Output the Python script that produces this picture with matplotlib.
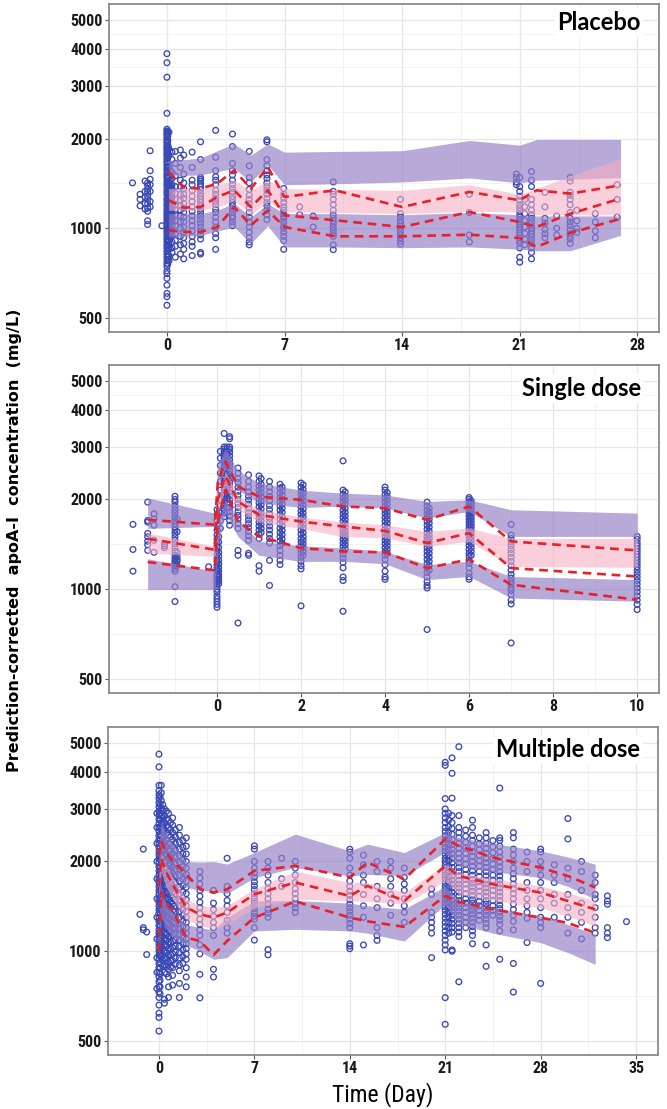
import matplotlib
matplotlib.use("Agg")
import matplotlib.pyplot as plt
import matplotlib.font_manager as fm
from matplotlib.ticker import FixedLocator, NullFormatter

# pick a narrow font if one is installed
avail = {f.name for f in fm.fontManager.ttflist}
NARROW = next((n for n in ['Liberation Sans Narrow', 'DejaVu Sans Condensed', 'Roboto Condensed',
                           'Arial Narrow', 'Open Sans Condensed'] if n in avail), 'DejaVu Sans')
plt.rcParams['font.family'] = [NARROW, 'DejaVu Sans']

# ---------------- Placebo ----------------
pl_t = [0.1, 1, 2, 3, 4, 5, 6, 7, 10, 14, 18, 21, 22, 24, 27]
pl_obs_hi = [1545, 1370, 1359, 1412, 1565, 1359, 1606, 1274, 1341, 1179, 1324, 1242, 1341, 1307, 1394]
pl_obs_med = [1242, 1173, 1179, 1274, 1341, 1179, 1341, 1106, 1064, 1010, 1134, 1050, 1010, 1119, 1258]
pl_obs_lo = [985, 972, 972, 1010, 1179, 1023, 1148, 1010, 940, 940, 952, 928, 866, 964, 1077]
pl_hi_top = [1690, 1700, 1720, 1820, 1920, 1760, 1920, 1800, 1810, 1820, 1970, 1900, 1985, 1985, 1985]
pl_hi_bot = [1505, 1505, 1510, 1550, 1590, 1430, 1630, 1400, 1410, 1430, 1475, 1420, 1450, 1460, 1480]
pl_med_top = [1359, 1360, 1360, 1400, 1449, 1340, 1450, 1359, 1350, 1340, 1400, 1300, 1360, 1500, 1713]
pl_med_bot = [1149, 1150, 1150, 1180, 1241, 1110, 1230, 1134, 1130, 1120, 1140, 1134, 1110, 1110, 1110]
pl_lo_top = [1120, 1120, 1120, 1150, 1213, 1090, 1210, 1120, 1120, 1110, 1130, 1110, 1100, 1100, 1100]
pl_lo_bot = [935, 940, 945, 980, 1010, 890, 1020, 866, 866, 861, 866, 851, 841, 841, 947]

placebo_obs = [
    (-2.05, [1420]),
    (-1.6, [1300, 1250, 1190]),
    (-1.3, [1440, 1330, 1270, 1210, 1160]),
    (-1.15, [1420, 1390, 1350, 1320, 1280, 1250, 1210, 1170, 1140, 1060, 1030]),
    (-1.0, [1820, 1560, 1460, 1400, 1330, 1230, 1180]),
    (-0.3, [1020]),
    (0.0, [3850, 3590, 3210, 2430, 2150, 2120, 2085, 2060, 2020, 1985, 1950, 1925, 1890, 1860, 1835,
           1800, 1770, 1745, 1710, 1680, 1655, 1620, 1590, 1565, 1530, 1500, 1475, 1440, 1410, 1385,
           1350, 1320, 1295, 1260, 1240, 1210, 1190, 1165, 1140, 1120, 1100, 1080, 1060, 1040, 1020,
           1000, 980, 960, 940, 920, 900, 880, 860, 840, 820, 800, 780, 762, 745, 720, 705, 680, 645,
           605, 590, 552]),
    (0.05, [2110, 2040, 1970, 1900, 1840, 1780, 1720, 1660, 1600, 1540, 1490, 1440, 1390, 1340, 1300,
            1260, 1220, 1180, 1150, 1120, 1090, 1060, 1030, 1000, 975, 950, 925, 900, 870, 840, 810,
            785, 760]),
    (0.12, [2100, 1850, 1760, 1610, 1480, 1420, 1390, 1350, 1320, 1290, 1260, 1230, 1200, 1180, 1160,
            1130, 1110, 1090, 1070, 1050, 1030, 1000, 970, 940, 910, 880, 850, 810, 780]),
    (0.2, [1560, 1450, 1400, 1340, 1290, 1250, 1215, 1180, 1150, 1125, 1100, 1075, 1050, 990, 930]),
    (0.3, [1800, 1700, 1540, 1470, 1400, 1360, 1320, 1270, 1230, 1190, 1160, 1120, 1090, 1060, 1020,
           980, 950, 900, 860, 830]),
    (0.5, [1810, 1650, 1500, 1380, 1310, 1250, 1200, 1150, 1110, 1060, 1020, 960, 910, 870, 800]),
    (0.8, [1830, 1720, 1600, 1450, 1380, 1300, 1240, 1190, 1150, 1100, 1050, 1000, 940, 880, 820]),
    (1.0, [1760, 1520, 1420, 1360, 1300, 1260, 1210, 1170, 1130, 1090, 1050, 1010, 970, 930, 890, 850, 790]),
    (1.5, [1800, 1600, 1450, 1400, 1340, 1280, 1230, 1180, 1140, 1100, 1060, 1020, 980, 940, 900, 870, 810]),
    (2.0, [1950, 1700, 1480, 1460, 1440, 1410, 1380, 1350, 1310, 1280, 1250, 1220, 1190, 1160, 1130,
           1100, 1070, 1040, 1010, 980, 950, 920, 830, 820]),
    (2.9, [2130, 1730, 1560, 1490, 1450, 1400, 1340, 1300, 1260, 1230, 1200, 1160, 1130, 1090, 1050,
           1010, 960, 930, 850]),
    (3.9, [2070, 1880, 1650, 1560, 1510, 1450, 1400, 1360, 1320, 1280, 1250, 1220, 1190, 1160, 1130,
           1100, 1080, 1050, 1020]),
    (4.9, [1810, 1620, 1480, 1420, 1350, 1290, 1250, 1210, 1170, 1130, 1090, 1050, 1010, 970, 930, 900, 880]),
    (5.95, [1980, 1950, 1700, 1620, 1560, 1510, 1470, 1420, 1380, 1340, 1300, 1260, 1220, 1190, 1150,
            1110, 1070]),
    (6.95, [1360, 1300, 1260, 1220, 1180, 1150, 1120, 1100, 1080, 1050, 1020, 1000, 970, 940, 910, 850]),
    (7.9, [1180, 1110]),
    (8.7, [1100, 1010]),
    (9.9, [1430, 1330, 1300, 1250, 1200, 1150, 1110, 1080, 1060, 1040, 1010, 985, 960, 940, 880, 848]),
    (13.9, [1250, 1120, 1090, 1060, 1040, 1020, 1000, 975, 950, 930, 905, 885]),
    (18.0, [1300, 1130, 950, 900]),
    (20.8, [1520, 1480, 1430, 1400]),
    (21.0, [1480, 1380, 1330, 1280, 1240, 1200, 1170, 1140, 1110, 1090, 1070, 1050, 1030, 1010, 990,
            970, 950, 930, 910, 890, 860, 800, 770]),
    (21.3, [1250, 1180, 1120, 1060, 1010, 960, 920, 880]),
    (21.7, [1550, 1450, 1380, 1250, 1200, 1150, 1110, 1080, 1050, 1020, 1000, 980, 960, 940, 915, 890,
            860, 830, 790]),
    (22.5, [1320, 1180, 1080, 1040, 990, 960, 930]),
    (23.2, [1100, 1000, 950]),
    (24.0, [1480, 1440, 1320, 1290, 1250, 1200, 1130, 1080, 1050, 1020, 990, 960, 940, 920, 890]),
    (24.4, [1150, 1060, 1000, 970]),
    (25.5, [1120, 1050, 980, 930]),
    (26.8, [1400, 1250, 1090]),
]

# ---------------- Single dose ----------------
sd_t = [-1.65, -0.05, 0.02, 0.2, 0.5, 1, 2, 3, 4, 5, 6, 7, 10]
sd_obs_hi = [1711, 1646, 2300, 2680, 2210, 2045, 1995, 1895, 1871, 1711, 1895, 1447, 1350]
sd_obs_med = [1477, 1357, 2000, 2400, 1970, 1777, 1687, 1624, 1570, 1429, 1543, 1178, 1104]
sd_obs_lo = [1234, 1157, 1700, 2150, 1687, 1504, 1374, 1340, 1330, 1178, 1260, 1036, 923]
sd_hi_top = [2025, 1800, 2600, 2950, 2500, 2270, 2150, 2100, 2073, 1970, 1995, 1848, 1800]
sd_hi_bot = [1600, 1625, 2200, 2550, 2150, 1950, 1880, 1900, 1871, 1732, 1824, 1504, 1504]
sd_med_top = [1544, 1393, 2000, 2500, 2050, 1850, 1750, 1680, 1645, 1563, 1604, 1480, 1480]
sd_med_bot = [1323, 1289, 1800, 2200, 1850, 1680, 1600, 1500, 1490, 1393, 1447, 1194, 1185]
sd_lo_top = [1266, 1149, 1650, 2000, 1700, 1450, 1400, 1375, 1340, 1209, 1241, 1104, 1077]
sd_lo_bot = [998, 998, 1400, 1800, 1500, 1300, 1240, 1241, 1218, 1077, 1104, 935, 912]

single_obs = [
    (-2.0, [1650, 1360, 1150]),
    (-1.65, [1960, 1700, 1680, 1540, 1500, 1450, 1410, 1350]),
    (-1.5, [1790, 1720, 1640, 1460, 1330]),
    (-1.25, [1420, 1400, 1380]),
    (-1.0, [2050, 2000, 1960, 1900, 1850, 1800, 1750, 1700, 1660, 1620, 1580, 1540, 1500, 1460, 1420,
            1380, 1340, 1300, 1270, 1250, 1230, 1210, 1190, 1170, 1150, 1020, 910]),
    (-0.95, [1720, 1560, 1330, 1290, 1260, 1240, 1200]),
    (-0.2, [1190]),
    (0.0, [1850, 1780, 1700, 1640, 1580, 1520, 1470, 1430, 1390, 1350, 1310, 1270, 1240, 1210, 1180,
           1150, 1120, 1100, 1080, 1060, 1040, 1020, 1000, 980, 950, 930, 910, 890, 870]),
    (0.04, [1500, 1440, 1380, 1330, 1290, 1250, 1215, 1180, 1150, 1120, 1095, 1070, 1045]),
    (0.08, [2900, 2750, 2600, 2450, 2300, 2150, 2000, 1900, 1800, 1700, 1600]),
    (0.17, [3330, 3000, 2950, 2900, 2850, 2800, 2750, 2700, 2650, 2600, 2550, 2500, 2450, 2400, 2350,
            2300, 2250, 2200, 2150, 2100, 2050, 2000, 1950, 1900, 1850, 1800, 1750]),
    (0.24, [3000, 2920, 2840, 2760, 2680, 2600, 2520, 2440, 2370, 2300, 2230, 2160, 2090, 2020, 1950,
            1880, 1810]),
    (0.3, [3250, 3200, 3000, 2950, 2880, 2800, 2720, 2650, 2580, 2500, 2430, 2360, 2300, 2240, 2180,
           2120, 2060, 2000, 1940, 1880, 1820, 1760, 1700, 1640]),
    (0.5, [2550, 2450, 2350, 2280, 2200, 2130, 2060, 2000, 1940, 1880, 1820, 1770, 1720, 1660, 1600,
           1350, 1300, 771]),
    (0.75, [2420, 2300, 2200, 2120, 2050, 1990, 1930, 1870, 1810, 1760, 1710, 1660, 1610, 1560, 1510,
            1460, 1320, 1300]),
    (1.0, [2400, 2300, 2220, 2150, 2080, 2010, 1950, 1890, 1830, 1780, 1730, 1680, 1630, 1580, 1530,
           1480, 1200, 1150]),
    (1.05, [2350, 2250, 2180, 2110, 2040, 1980, 1920, 1860, 1800, 1750, 1700, 1650, 1600, 1550]),
    (1.25, [2300, 2200, 2120, 2050, 1980, 1910, 1850, 1790, 1730, 1680, 1630, 1580, 1530, 1480, 1430,
            1250, 1030]),
    (1.5, [2250, 2180, 2100, 2030, 1960, 1900, 1840, 1780, 1720, 1660, 1600, 1550, 1500, 1450, 1400,
           1350, 1300, 1250, 1210]),
    (1.55, [2200, 2140, 2070, 2000, 1930, 1870, 1810, 1750, 1690, 1630, 1575, 1525, 1475, 1425]),
    (2.0, [2270, 2200, 2130, 2070, 2010, 1950, 1890, 1830, 1780, 1730, 1680, 1630, 1580, 1530, 1480,
           1440, 1400, 1360, 1320, 1280, 1240, 1200, 1170, 880]),
    (2.05, [2240, 2160, 2100, 2040, 1980, 1920, 1860, 1800, 1750, 1700, 1650, 1600, 1550, 1500, 1460,
            1420, 1380, 1340, 1300]),
    (3.0, [2695, 2150, 2080, 2020, 1960, 1900, 1840, 1790, 1740, 1690, 1640, 1590, 1550, 1510, 1470,
           1430, 1390, 1350, 1310, 1270, 1230, 1180, 1100, 1070, 844]),
    (3.05, [2120, 2050, 1990, 1930, 1870, 1810, 1760, 1710, 1660, 1615, 1570, 1530, 1490, 1450, 1410,
            1370]),
    (4.0, [2200, 2150, 2080, 2020, 1960, 1900, 1840, 1790, 1740, 1690, 1640, 1590, 1540, 1500, 1460,
           1420, 1380, 1340, 1300, 1260, 1210, 1150, 1100, 1080]),
    (4.05, [2110, 2050, 1990, 1930, 1870, 1815, 1765, 1715, 1665, 1615, 1565, 1520, 1480, 1440, 1400,
            1360, 1320]),
    (5.0, [1960, 1900, 1840, 1790, 1740, 1690, 1640, 1590, 1540, 1500, 1460, 1420, 1380, 1340, 1300,
           1260, 1220, 1180, 1140, 1100, 1060, 1030, 1010, 733]),
    (5.05, [1870, 1815, 1765, 1715, 1665, 1615, 1565, 1520, 1480, 1440, 1400, 1360, 1320, 1280, 1240,
            1200, 1160]),
    (6.0, [2030, 2000, 1960, 1920, 1880, 1840, 1800, 1760, 1720, 1680, 1640, 1600, 1560, 1520, 1480,
           1440, 1400, 1360, 1320, 1290, 1250, 1220, 1180, 1130, 1100, 1080]),
    (6.05, [1980, 1940, 1900, 1860, 1820, 1780, 1740, 1700, 1660, 1620, 1580, 1540, 1500, 1460, 1420,
            1380, 1340, 1300]),
    (7.0, [1650, 1520, 1480, 1440, 1400, 1360, 1320, 1280, 1240, 1200, 1160, 1120, 1090, 1060, 1040,
           1010, 990, 960, 920, 893, 661]),
    (10.0, [1504, 1470, 1430, 1400, 1370, 1340, 1310, 1280, 1250, 1220, 1190, 1160, 1130, 1100, 1070,
            1040, 1010, 980, 950, 920, 890, 855]),
]

# ---------------- Multiple dose ----------------
md_t = [0, 0.17, 0.5, 1, 2, 3, 4, 5, 7, 10, 14, 15.3, 18, 21, 22, 24.5, 28, 30, 32]
md_obs_hi = [2100, 2345, 2150, 2009, 1813, 1614, 1573, 1614, 1860, 1933, 1768, 1986, 1744, 2375, 2256, 2061, 1908, 1788, 1637]
md_obs_med = [1650, 2050, 1850, 1678, 1402, 1331, 1297, 1348, 1553, 1700, 1533, 1656, 1475, 1933, 1788, 1677, 1573, 1474, 1382]
md_obs_lo = [1000, 1580, 1450, 1366, 1111, 1083, 972, 1083, 1297, 1470, 1297, 1260, 1207, 1533, 1464, 1382, 1296, 1245, 1152]
md_hi_top = [2300, 2700, 2500, 2300, 2000, 1990, 2000, 1960, 2143, 2470, 2171, 2286, 2143, 2500, 2405, 2300, 2171, 2070, 1959]
md_hi_bot = [1750, 2150, 1950, 1800, 1640, 1600, 1590, 1560, 1766, 1908, 1789, 1810, 1789, 2150, 1930, 1850, 1766, 1650, 1495]
md_med_top = [1800, 2150, 1950, 1780, 1500, 1420, 1402, 1420, 1620, 1857, 1700, 1700, 1573, 1959, 1836, 1750, 1656, 1570, 1475]
md_med_bot = [1500, 1850, 1650, 1500, 1280, 1220, 1190, 1230, 1400, 1495, 1475, 1470, 1438, 1722, 1553, 1480, 1400, 1310, 1216]
md_lo_top = [1300, 1650, 1450, 1350, 1230, 1200, 1180, 1297, 1475, 1480, 1450, 1420, 1384, 1650, 1475, 1400, 1314, 1230, 1140]
md_lo_bot = [950, 1300, 1200, 1120, 1050, 1000, 940, 952, 1170, 1185, 1170, 1150, 1082, 1437, 1232, 1150, 1069, 990, 904]

multiple_obs = [
    (-1.4, [1330]),
    (-1.15, [2200, 1200, 1180]),
    (-0.9, [1160, 975]),
    (-0.15, [2900, 2600, 2300, 2000, 1750, 1500, 1300, 1100, 950, 850, 750]),
    (0.0, [4580, 4150, 3600, 3450, 3350, 3250, 3150, 3050, 2950, 2860, 2770, 2680, 2600, 2520, 2440,
           2370, 2300, 2230, 2160, 2100, 2040, 1980, 1920, 1860, 1800, 1750, 1700, 1650, 1600, 1550,
           1500, 1460, 1420, 1380, 1340, 1300, 1260, 1220, 1180, 1150, 1120, 1090, 1060, 1030, 1000,
           970, 940, 910, 880, 850, 820, 790, 760, 730, 700, 660, 620, 600, 540]),
    (0.08, [3300, 3100, 2900, 2750, 2600, 2470, 2350, 2240, 2130, 2030, 1930, 1840, 1750, 1670, 1590,
            1520, 1450, 1390, 1330, 1270, 1210, 1160, 1110, 1060, 1010, 965, 920, 880, 840, 800, 760, 720]),
    (0.17, [3600, 3400, 3200, 3000, 2850, 2700, 2560, 2430, 2300, 2180, 2070, 1960, 1860, 1770, 1680,
            1600, 1520, 1450, 1380, 1310, 1250, 1190, 1130, 1080, 1030, 980]),
    (0.28, [3100, 2950, 2800, 2650, 2520, 2390, 2270, 2160, 2050, 1950, 1860, 1770, 1690, 1610, 1540,
            1470, 1400, 1340, 1280, 1220, 1170, 1120, 1070, 1020, 975, 930, 890]),
    (0.4, [3000, 2850, 2700, 2560, 2430, 2310, 2200, 2090, 1990, 1900, 1810, 1730, 1650, 1580, 1510,
           1440, 1380, 1320, 1260, 1200, 1150, 1100, 1050, 1000, 950, 900, 850, 690, 670]),
    (0.55, [2950, 2780, 2630, 2490, 2360, 2240, 2120, 2010, 1910, 1820, 1730, 1650, 1570, 1500, 1430,
            1370, 1310, 1250, 1190, 1140, 1090, 1040, 990, 940, 890, 840]),
    (0.7, [2900, 2750, 2600, 2450, 2300, 2170, 2050, 1940, 1840, 1750, 1660, 1580, 1500, 1430, 1360,
           1300, 1240, 1180, 1120, 1070, 1020, 970, 920, 870, 820, 760, 700]),
    (0.85, [2700, 2560, 2420, 2290, 2170, 2060, 1960, 1860, 1770, 1690, 1610, 1540, 1470, 1400, 1340,
            1280, 1220, 1170, 1120, 1070, 1020, 975, 930, 885]),
    (1.0, [2800, 2650, 2500, 2370, 2250, 2130, 2020, 1920, 1830, 1740, 1660, 1580, 1510, 1440, 1370,
           1310, 1250, 1190, 1130, 1080, 1030, 980, 930, 880, 830, 770]),
    (1.2, [2550, 2420, 2300, 2180, 2070, 1970, 1880, 1790, 1710, 1630, 1560, 1490, 1420, 1360, 1300,
           1240, 1190, 1140, 1090, 1040, 995, 950, 905]),
    (1.5, [2600, 2450, 2320, 2200, 2090, 1990, 1890, 1800, 1720, 1640, 1560, 1490, 1420, 1360, 1300,
           1240, 1190, 1140, 1090, 1040, 990, 950, 900, 860, 780, 700]),
    (1.75, [2350, 2230, 2120, 2020, 1920, 1830, 1740, 1660, 1580, 1510, 1440, 1380, 1320, 1260, 1210,
            1160, 1110, 1060, 1010, 960, 910]),
    (2.0, [2400, 2250, 2120, 2000, 1900, 1810, 1720, 1640, 1560, 1490, 1420, 1360, 1300, 1250, 1200,
           1150, 1100, 1060, 1020, 980, 940, 880, 820, 760]),
    (3.0, [1850, 1760, 1680, 1600, 1530, 1460, 1400, 1340, 1280, 1230, 1180, 1130, 1050, 980, 837, 698]),
    (4.0, [1600, 1450, 1380, 1310, 1250, 1200, 1130, 870, 820]),
    (5.0, [2050, 1650, 1560, 1480, 1420, 1350, 1270, 1200, 1150]),
    (7.0, [2256, 2200, 2000, 1900, 1830, 1770, 1710, 1660, 1610, 1560, 1510, 1470, 1430, 1390, 1350,
           1310, 1281, 1200, 1090]),
    (8.0, [2000, 1900, 1800, 1700, 1620, 1560, 1500, 1440, 1380, 1340, 1300, 1013, 973]),
    (9.0, [2050, 1750, 1650]),
    (10.0, [2000, 1900, 1800, 1700, 1620, 1560, 1500, 1440, 1400, 1350]),
    (14.0, [2198, 2150, 2050, 1900, 1800, 1720, 1650, 1590, 1540, 1490, 1440, 1400, 1360, 1320, 1280,
            1240, 1200, 1060, 1041, 1020]),
    (15.0, [2100, 1950, 1800, 1700, 1550, 1420, 1300, 1050]),
    (16.0, [2000, 1850, 1650, 1500, 1400, 1200, 1130, 1088]),
    (17.0, [2000, 1900, 1750, 1650, 1550, 1450, 1320]),
    (18.0, [1900, 1770, 1680, 1600, 1500, 1420, 1350, 1250]),
    (20.0, [1620, 1550, 1350, 1300, 1250, 1200, 1150, 952]),
    (21.0, [4300, 4200, 3250, 3000, 2900, 2800, 2700, 2600, 2520, 2440, 2370, 2300, 2230, 2170, 2110,
            2050, 2000, 1950, 1900, 1850, 1800, 1750, 1700, 1650, 1610, 1570, 1530, 1490, 1450, 1410,
            1370, 1330, 1290, 1250, 1210, 1170, 1130, 1090, 1050, 1010, 699, 569]),
    (21.25, [2900, 2750, 2620, 2500, 2390, 2290, 2190, 2100, 2010, 1930, 1850, 1780, 1710, 1640, 1580,
             1520, 1460, 1400, 1350, 1300, 1250, 1200, 1150]),
    (21.5, [4450, 3950, 3260, 2850, 2700, 2580, 2470, 2370, 2280, 2200, 2120, 2050, 1980, 1910, 1850,
            1790, 1730, 1680, 1630, 1580, 1530, 1480, 1440, 1400, 1360, 1320, 1280, 1240, 1200, 1160,
            1010, 1000]),
    (22.0, [4850, 2850, 2600, 2500, 2400, 2300, 2210, 2130, 2050, 1980, 1910, 1850, 1790, 1730, 1680,
            1630, 1580, 1530, 1480, 1440, 1400, 1360, 1320, 1280, 1240, 1200, 1160, 1120, 790]),
    (22.5, [2550, 2430, 2320, 2220, 2130, 2040, 1960, 1880, 1810, 1740, 1680, 1620, 1560, 1500, 1450,
            1400, 1350, 1300, 1250, 1200]),
    (23.0, [2750, 2600, 2450, 2350, 2250, 2160, 2080, 2000, 1930, 1860, 1800, 1740, 1690, 1640, 1590,
            1540, 1490, 1450, 1410, 1370, 1330, 1290, 1250, 1210, 1170, 1130, 1060]),
    (23.5, [2400, 2290, 2190, 2100, 2010, 1930, 1850, 1780, 1710, 1650, 1590, 1530, 1470, 1420, 1370,
            1320, 1270]),
    (24.0, [2500, 2400, 2300, 2210, 2130, 2050, 1980, 1910, 1850, 1790, 1730, 1680, 1630, 1580, 1530,
            1480, 1440, 1400, 1360, 1320, 1280, 1240, 1200, 1050, 890]),
    (24.5, [2350, 2240, 2140, 2050, 1960, 1880, 1800, 1730, 1660, 1600, 1540, 1480, 1420, 1370, 1320]),
    (25.0, [3524, 2400, 2350, 2250, 2150, 2070, 1990, 1920, 1850, 1790, 1730, 1680, 1630, 1580, 1530,
            1480, 1430, 1390, 1350, 1310, 1270, 1230, 1170, 940]),
    (26.0, [2500, 2400, 2200, 2100, 2000, 1900, 1820, 1750, 1680, 1620, 1560, 1500, 1440, 1380, 1320,
            1260, 1180, 910, 730]),
    (27.0, [2150, 2000, 1850, 1700, 1600, 1500, 1420, 1350, 1290, 1070]),
    (28.0, [2200, 2150, 2000, 1900, 1800, 1700, 1600, 1500, 1400, 1300, 1250, 1200, 780]),
    (29.0, [1950, 1800, 1700, 1550, 1450, 1300]),
    (30.0, [2786, 2380, 1900, 1750, 1550, 1400, 1300, 1150]),
    (31.0, [2000, 1850, 1600, 1450, 1350, 1250, 1100]),
    (32.0, [1800, 1700, 1550, 1500, 1400, 1300, 1200, 1150]),
    (32.9, [1533, 1475, 1438, 1200, 1150, 1111]),
    (34.3, [1257]),
]

y_ticks = [500, 1000, 2000, 3000, 4000, 5000]
y_minor = [707, 1414, 2449, 3464, 4472]

PURPLE = '#9580C6'
PINK = '#F4AFC2'
RED = '#E8202A'
BLUE = '#3A48B5'


def draw_panel(ax, obs, t, hi_top, hi_bot, med_top, med_bot, lo_top, lo_bot,
               obs_hi, obs_med, obs_lo, xlim, xticks, xminor, title, title_y):
    xs, ys = [], []
    for day, vals in obs:
        for v in vals:
            xs.append(day)
            ys.append(v)
    ax.scatter(xs, ys, s=17, facecolors='none', edgecolors=BLUE, linewidths=0.95, zorder=2)

    ax.fill_between(t, hi_bot, hi_top, color=PURPLE, alpha=0.68, lw=0, zorder=3)
    ax.fill_between(t, lo_bot, lo_top, color=PURPLE, alpha=0.68, lw=0, zorder=3)
    ax.fill_between(t, med_bot, med_top, color=PINK, alpha=0.6, lw=0, zorder=3)

    for line in (obs_hi, obs_med, obs_lo):
        ax.plot(t, line, color=RED, lw=1.9, dashes=(3.3, 2.2), zorder=4)

    ax.set_yscale('log')
    ax.set_ylim(449, 5650)
    ax.set_xlim(*xlim)
    ax.yaxis.set_major_locator(FixedLocator(y_ticks))
    ax.yaxis.set_minor_locator(FixedLocator(y_minor))
    ax.yaxis.set_major_formatter(plt.FixedFormatter([str(v) for v in y_ticks]))
    ax.yaxis.set_minor_formatter(NullFormatter())
    ax.set_xticks(xticks)
    ax.xaxis.set_minor_locator(FixedLocator(xminor))

    ax.set_axisbelow(True)
    ax.grid(which='major', color='#E6E6E6', lw=0.9, zorder=0)
    ax.grid(which='minor', color='#F0F0F0', lw=0.6, zorder=0)
    for s in ax.spines.values():
        s.set_color('#8A8A8A')
        s.set_linewidth(1.3)
    ax.tick_params(which='major', length=3, width=0.8, color='#555555', pad=1.5,
                   labelsize=11.5, labelcolor='#1A1A1A')
    ax.tick_params(which='minor', length=0)
    for lab in ax.get_xticklabels() + ax.get_yticklabels():
        lab.set_fontweight('bold')
        lab.set_family(NARROW)
        lab.set_stretch('condensed')

    ax.text(0.967, title_y, title, transform=ax.transAxes, ha='right', va='baseline',
            fontsize=17, fontweight='bold', family=['Lato', 'DejaVu Sans'], color='black',
            bbox=dict(facecolor='white', edgecolor='none', pad=2), zorder=6)


fig = plt.figure(figsize=(6.67, 11.09), dpi=100)

ax1 = fig.add_axes([0.1634, 0.7006, 0.8246, 0.2958])
draw_panel(ax1, placebo_obs, pl_t, pl_hi_top, pl_hi_bot, pl_med_top, pl_med_bot,
           pl_lo_top, pl_lo_bot, pl_obs_hi, pl_obs_med, pl_obs_lo,
           (-3.45, 29.29), [0, 7, 14, 21, 28], [3.5, 10.5, 17.5, 24.5], 'Placebo', 0.921)

ax2 = fig.add_axes([0.1634, 0.3751, 0.8246, 0.2958])
draw_panel(ax2, single_obs, sd_t, sd_hi_top, sd_hi_bot, sd_med_top, sd_med_bot,
           sd_lo_top, sd_lo_bot, sd_obs_hi, sd_obs_med, sd_obs_lo,
           (-2.571, 10.52), [0, 2, 4, 6, 8, 10], [-1, 1, 3, 5, 7, 9], 'Single dose', 0.905)

ax3 = fig.add_axes([0.1619, 0.0487, 0.8246, 0.2958])
draw_panel(ax3, multiple_obs, md_t, md_hi_top, md_hi_bot, md_med_top, md_med_bot,
           md_lo_top, md_lo_bot, md_obs_hi, md_obs_med, md_obs_lo,
           (-3.74, 36.61), [0, 7, 14, 21, 28, 35], [3.5, 10.5, 17.5, 24.5, 31.5], 'Multiple dose', 0.909)

fig.text(0.022, 0.513, 'Prediction-corrected  apoA-I  concentration  (mg/L)', rotation=90,
         ha='center', va='center', fontsize=11.5, fontweight='bold', family=['DejaVu Sans'])
fig.text(0.574, 0.0126, 'Time (Day)', ha='center', va='center', fontsize=17,
         family=[NARROW, 'DejaVu Sans'], stretch='condensed')

fig.savefig('out.png', dpi=100, facecolor='white')
